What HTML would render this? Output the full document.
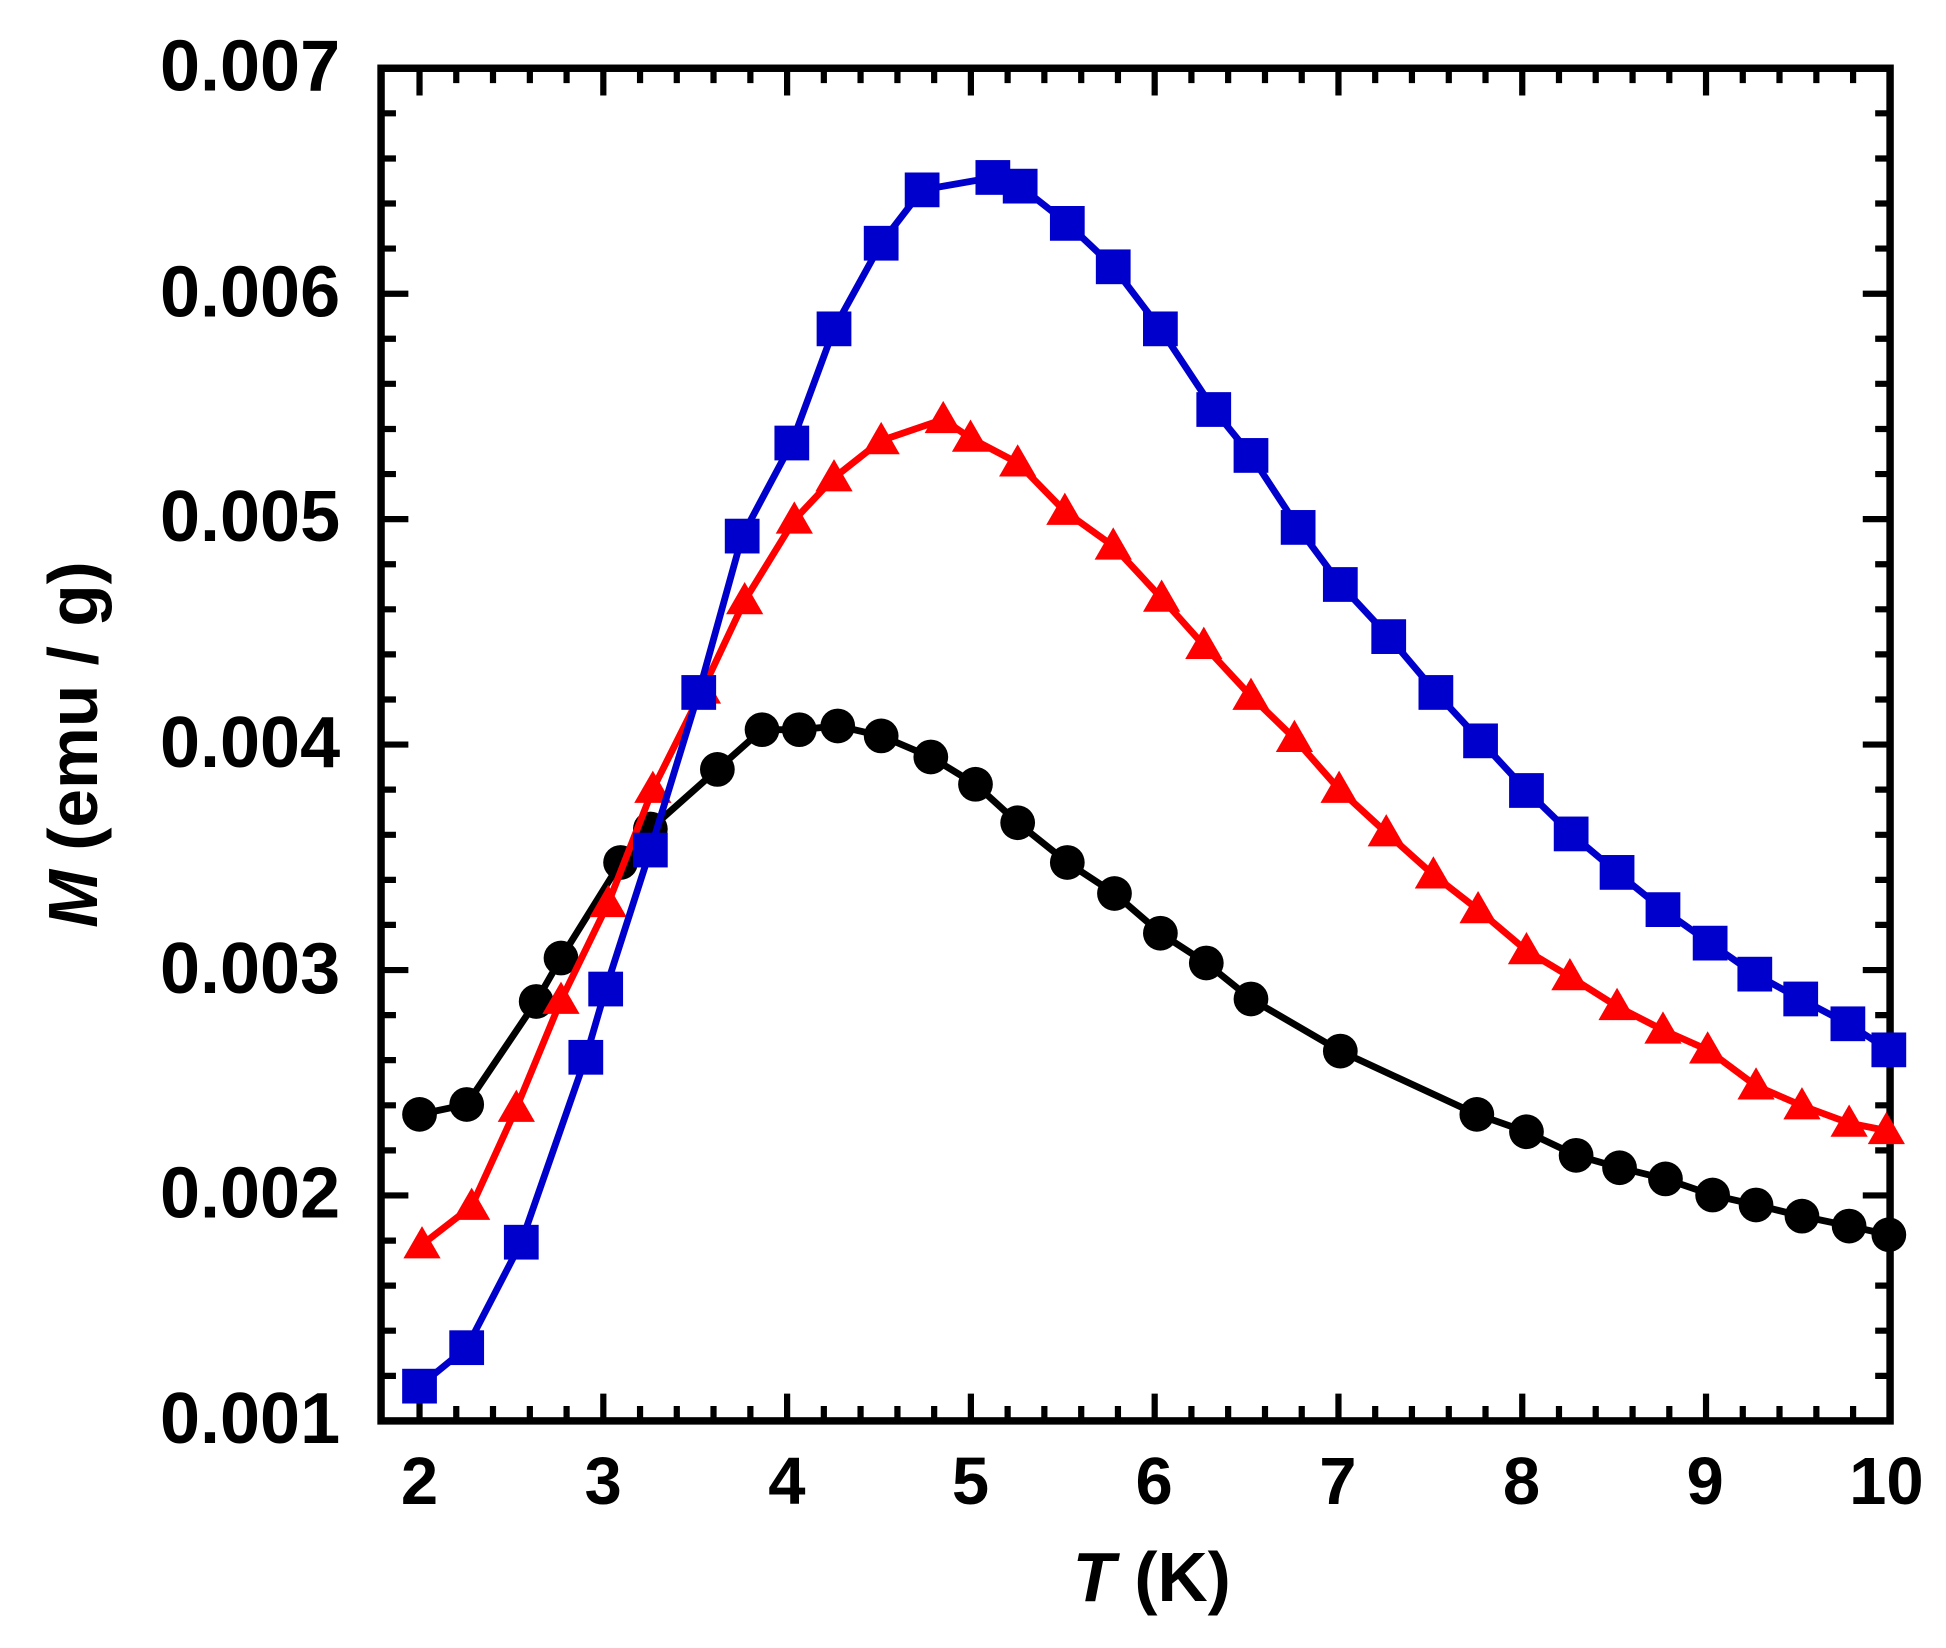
<!DOCTYPE html>
<html><head><meta charset="utf-8"><style>html,body{margin:0;padding:0;background:#fff}svg{display:block}</style></head>
<body>
<svg width="1946" height="1648" viewBox="0 0 1568 1328" xmlns="http://www.w3.org/2000/svg" font-family="Liberation Sans, sans-serif" font-weight="bold">
<defs>
<marker id="mc" markerUnits="userSpaceOnUse" markerWidth="32" markerHeight="32" refX="16" refY="16" overflow="visible"><circle cx="16" cy="16" r="14" fill="#000"/></marker>
<marker id="mt" markerUnits="userSpaceOnUse" markerWidth="34" markerHeight="34" refX="16" refY="16" overflow="visible"><polygon points="16,1 1,27 31,27" fill="#f00"/></marker>
<marker id="ms" markerUnits="userSpaceOnUse" markerWidth="32" markerHeight="32" refX="15" refY="15" overflow="visible"><rect x="1" y="1" width="28" height="28" fill="#00c"/></marker>
</defs>
<rect width="1568" height="1328" fill="#fff"/>
<g stroke="#000" stroke-width="5" fill="none">
<path d="M486.1 1145v-22M634.2 1145v-22M782.3 1145v-22M930.4 1145v-22M1078.5 1145v-22M1226.6 1145v-22M1374.7 1145v-22M338 1145v-22
M486.1 55v22M634.2 55v22M782.3 55v22M930.4 55v22M1078.5 55v22M1226.6 55v22M1374.7 55v22M338 55v22"/>
<path d="M367.6 1145v-12M397.2 1145v-12M426.9 1145v-12M456.5 1145v-12M515.7 1145v-12M545.3 1145v-12M574.9 1145v-12M604.6 1145v-12M663.8 1145v-12M693.4 1145v-12M723.1 1145v-12M752.7 1145v-12M811.9 1145v-12M841.5 1145v-12M871.2 1145v-12M900.8 1145v-12M960 1145v-12M989.6 1145v-12M1019.3 1145v-12M1048.9 1145v-12M1108.1 1145v-12M1137.7 1145v-12M1167.4 1145v-12M1197 1145v-12M1256.2 1145v-12M1285.8 1145v-12M1315.5 1145v-12M1345.1 1145v-12M1404.3 1145v-12M1433.9 1145v-12M1463.6 1145v-12M1493.2 1145v-12
M367.6 55v12M397.2 55v12M426.9 55v12M456.5 55v12M515.7 55v12M545.3 55v12M574.9 55v12M604.6 55v12M663.8 55v12M693.4 55v12M723.1 55v12M752.7 55v12M811.9 55v12M841.5 55v12M871.2 55v12M900.8 55v12M960 55v12M989.6 55v12M1019.3 55v12M1048.9 55v12M1108.1 55v12M1137.7 55v12M1167.4 55v12M1197 55v12M1256.2 55v12M1285.8 55v12M1315.5 55v12M1345.1 55v12M1404.3 55v12M1433.9 55v12M1463.6 55v12M1493.2 55v12"/>
<path d="M307 236.7h22M307 418.3h22M307 600h22M307 781.7h22M307 963.3h22M1523 236.7h-22M1523 418.3h-22M1523 600h-22M1523 781.7h-22M1523 963.3h-22"/>
<path d="M307 91.3h12M307 127.7h12M307 164h12M307 200.3h12M307 273h12M307 309.3h12M307 345.7h12M307 382h12M307 454.7h12M307 491h12M307 527.3h12M307 563.7h12M307 636.3h12M307 672.7h12M307 709h12M307 745.3h12M307 818h12M307 854.3h12M307 890.7h12M307 927h12M307 999.7h12M307 1036h12M307 1072.3h12M307 1108.7h12
M1523 91.3h-12M1523 127.7h-12M1523 164h-12M1523 200.3h-12M1523 273h-12M1523 309.3h-12M1523 345.7h-12M1523 382h-12M1523 454.7h-12M1523 491h-12M1523 527.3h-12M1523 563.7h-12M1523 636.3h-12M1523 672.7h-12M1523 709h-12M1523 745.3h-12M1523 818h-12M1523 854.3h-12M1523 890.7h-12M1523 927h-12M1523 999.7h-12M1523 1036h-12M1523 1072.3h-12M1523 1108.7h-12"/>
</g>
<rect x="307" y="55" width="1216" height="1090" fill="none" stroke="#000" stroke-width="6"/>
<g font-size="58" text-anchor="end" fill="#000">
<text x="274" y="73">0.007</text><text x="274" y="255">0.006</text><text x="274" y="436">0.005</text>
<text x="274" y="618">0.004</text><text x="274" y="800">0.003</text><text x="274" y="981">0.002</text><text x="274" y="1163">0.001</text>
</g>
<g font-size="54" text-anchor="middle" fill="#000">
<text x="338" y="1212">2</text><text x="486" y="1212">3</text><text x="634" y="1212">4</text><text x="782" y="1212">5</text>
<text x="930" y="1212">6</text><text x="1078" y="1212">7</text><text x="1226" y="1212">8</text><text x="1374" y="1212">9</text><text x="1520" y="1212">10</text>
</g>
<g font-size="56" text-anchor="middle" fill="#000">
<text x="928" y="1290"><tspan font-style="italic">T</tspan> (K)</text>
<text transform="translate(78,600) rotate(-90)"><tspan font-style="italic">M</tspan> (emu / g)</text>
</g>
<polyline fill="none" stroke="#000" stroke-width="5.5" marker-start="url(#mc)" marker-mid="url(#mc)" marker-end="url(#mc)" points="338,898 376,890 432,807 452,772 500,695 524,668 578,620 614,588 644,588 675,585 710,593 750,610 786,632 820,663 860,695 898,720 935,752 972,776 1008,805 1080,847 1190,898 1230,912 1270,931 1305,941 1342,950 1380,963 1415,971 1452,980 1490,988 1522,995"/>
<polyline fill="none" stroke="#f00" stroke-width="5.5" marker-start="url(#mt)" marker-mid="url(#mt)" marker-end="url(#mt)" points="340,1003 380,972 416,893 452,806 490,728 526,636 566,556 600,484 640,419 672,385 710,355 760,338 782,353 820,373 858,412 897,440 936,482 970,520 1008,561 1043,595 1079,636 1117,671 1155,705 1191,733 1230,766 1265,787 1303,811 1340,830 1376,846 1415,875 1452,891 1490,905 1520,911"/>
<polyline fill="none" stroke="#00c" stroke-width="5.5" marker-start="url(#ms)" marker-mid="url(#ms)" marker-end="url(#ms)" points="338,1117 376,1086 420,1001 472,852 488,797 524,685 563,558 598,432 638,357 672,265 710,196 743,153 800,143 822,150 860,180 897,215 935,265 978,330 1008,367 1046,425 1080,471 1119,513 1157,558 1193,597 1230,637 1266,672 1303,703 1340,733 1378,760 1414,785 1451,805 1489,825 1522,846"/>
</svg>
</body></html>
